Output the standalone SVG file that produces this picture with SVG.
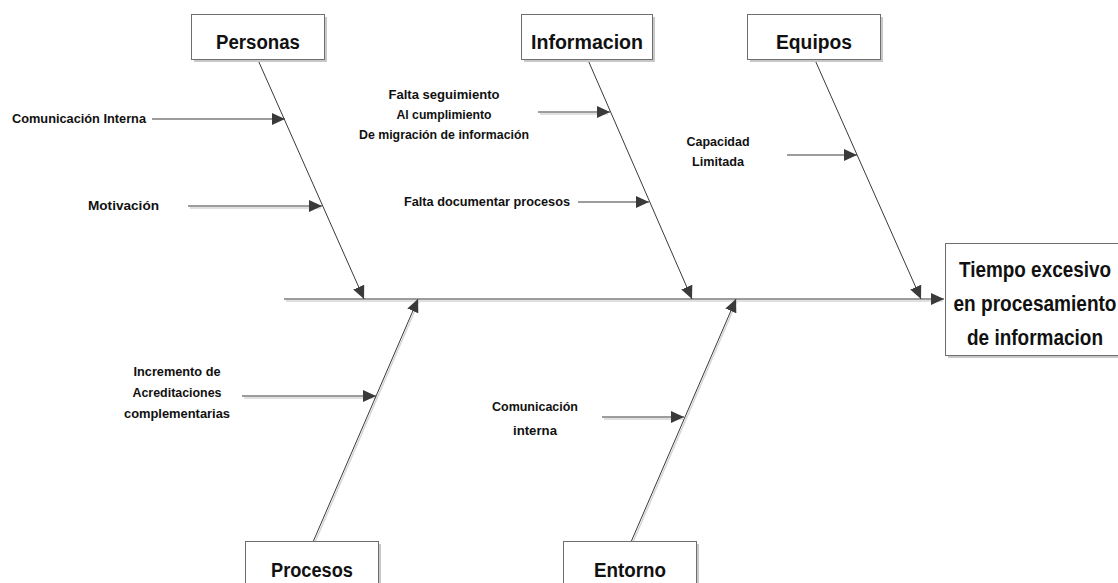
<svg xmlns="http://www.w3.org/2000/svg" width="1118" height="583" viewBox="0 0 1118 583">
<style>
.box{fill:#ffffff;stroke:#6e6e6e;stroke-width:1}
.shadow{fill:#c8c8c8}
.title{font-family:"Liberation Sans",Arial,sans-serif;font-weight:bold;font-size:20px;fill:#111;text-anchor:middle}
.effect{font-family:"Liberation Sans",Arial,sans-serif;font-weight:bold;font-size:22px;fill:#111;text-anchor:middle}
.lbl{font-family:"Liberation Sans",Arial,sans-serif;font-weight:bold;font-size:12.5px;fill:#111}
.c{text-anchor:middle}
.ln{stroke:#3a3a3a;stroke-width:1;fill:none}
.sh{stroke:#d6d6d6;stroke-width:1.5;fill:none}
</style>
<defs>
<marker id="ah" markerUnits="userSpaceOnUse" markerWidth="14" markerHeight="12" refX="13" refY="6" orient="auto">
<path d="M0,0 L13,6 L0,12 Z" fill="#3a3a3a"/>
</marker>
</defs>
<g id="connectors">
<line class="sh" x1="286" y1="301" x2="943" y2="301"/>
<line class="sh" x1="315" y1="542" x2="419" y2="301"/>
<line class="sh" x1="633" y1="542" x2="737" y2="301"/>
<line class="sh" x1="244" y1="398" x2="377" y2="398"/>
<line class="sh" x1="604" y1="419" x2="683" y2="419"/>
<line class="sh" x1="540" y1="114" x2="608" y2="114"/>
<line class="sh" x1="190" y1="208" x2="321" y2="208"/>
<line class="ln" x1="284" y1="299" x2="944" y2="299" marker-end="url(#ah)"/>
<line class="ln" x1="258" y1="60" x2="364" y2="299" marker-end="url(#ah)"/>
<line class="ln" x1="588" y1="60" x2="692" y2="299" marker-end="url(#ah)"/>
<line class="ln" x1="815" y1="60" x2="921" y2="299" marker-end="url(#ah)"/>
<line class="ln" x1="313" y1="542" x2="418" y2="299" marker-end="url(#ah)"/>
<line class="ln" x1="631" y1="542" x2="736" y2="299" marker-end="url(#ah)"/>
<line class="ln" x1="152" y1="119" x2="285" y2="119" marker-end="url(#ah)"/>
<line class="ln" x1="188" y1="206" x2="322" y2="206" marker-end="url(#ah)"/>
<line class="ln" x1="538" y1="112" x2="610" y2="112" marker-end="url(#ah)"/>
<line class="ln" x1="578" y1="202" x2="649" y2="202" marker-end="url(#ah)"/>
<line class="ln" x1="787" y1="155" x2="857" y2="155" marker-end="url(#ah)"/>
<line class="ln" x1="242" y1="396" x2="376" y2="396" marker-end="url(#ah)"/>
<line class="ln" x1="602" y1="417" x2="684" y2="417" marker-end="url(#ah)"/>
</g>
<g id="node-personas">
<rect class="shadow" x="194" y="17" width="133" height="45"/>
<rect class="box" x="191.5" y="14.5" width="133" height="45"/>
<text class="title" x="258" y="49" textLength="84" lengthAdjust="spacingAndGlyphs">Personas</text>
</g>
<g id="node-informacion">
<rect class="shadow" x="524" y="17" width="131" height="45"/>
<rect class="box" x="521.5" y="14.5" width="131" height="45"/>
<text class="title" x="587" y="49" textLength="112" lengthAdjust="spacingAndGlyphs">Informacion</text>
</g>
<g id="node-equipos">
<rect class="shadow" x="750" y="17" width="133" height="45"/>
<rect class="box" x="747.5" y="14.5" width="133" height="45"/>
<text class="title" x="814" y="49" textLength="76" lengthAdjust="spacingAndGlyphs">Equipos</text>
</g>
<g id="node-procesos">
<rect class="shadow" x="248" y="544" width="133" height="45"/>
<rect class="box" x="245.5" y="541.5" width="133" height="45"/>
<text class="title" x="312" y="577" textLength="82" lengthAdjust="spacingAndGlyphs">Procesos</text>
</g>
<g id="node-entorno">
<rect class="shadow" x="566" y="544" width="133" height="45"/>
<rect class="box" x="563.5" y="541.5" width="133" height="45"/>
<text class="title" x="630" y="577" textLength="72" lengthAdjust="spacingAndGlyphs">Entorno</text>
</g>
<g id="node-effect">
<rect class="shadow" x="948" y="246" width="180" height="112"/>
<rect class="box" x="945.5" y="243.5" width="180" height="112"/>
<text class="effect" x="1035" y="277" textLength="152" lengthAdjust="spacingAndGlyphs">Tiempo excesivo</text>
<text class="effect" x="1035" y="311" textLength="163" lengthAdjust="spacingAndGlyphs">en procesamiento</text>
<text class="effect" x="1035" y="345" textLength="136" lengthAdjust="spacingAndGlyphs">de informacion</text>
</g>
<g id="labels">
<text class="lbl" x="12" y="123" textLength="134" lengthAdjust="spacingAndGlyphs">Comunicación Interna</text>
<text class="lbl" x="88" y="210" textLength="71" lengthAdjust="spacingAndGlyphs">Motivación</text>
<text class="lbl c" x="444" y="99" textLength="111" lengthAdjust="spacingAndGlyphs">Falta seguimiento</text>
<text class="lbl c" x="444" y="119" textLength="95" lengthAdjust="spacingAndGlyphs">Al cumplimiento</text>
<text class="lbl c" x="444" y="139" textLength="170" lengthAdjust="spacingAndGlyphs">De migración de información</text>
<text class="lbl" x="404" y="206" textLength="166" lengthAdjust="spacingAndGlyphs">Falta documentar procesos</text>
<text class="lbl c" x="718" y="146" textLength="63" lengthAdjust="spacingAndGlyphs">Capacidad</text>
<text class="lbl c" x="718" y="166" textLength="52" lengthAdjust="spacingAndGlyphs">Limitada</text>
<text class="lbl c" x="177" y="376" textLength="87" lengthAdjust="spacingAndGlyphs">Incremento de</text>
<text class="lbl c" x="177" y="397" textLength="89" lengthAdjust="spacingAndGlyphs">Acreditaciones</text>
<text class="lbl c" x="177" y="418" textLength="106" lengthAdjust="spacingAndGlyphs">complementarias</text>
<text class="lbl c" x="535" y="411" textLength="86" lengthAdjust="spacingAndGlyphs">Comunicación</text>
<text class="lbl c" x="535" y="435" textLength="44" lengthAdjust="spacingAndGlyphs">interna</text>
</g>
</svg>
